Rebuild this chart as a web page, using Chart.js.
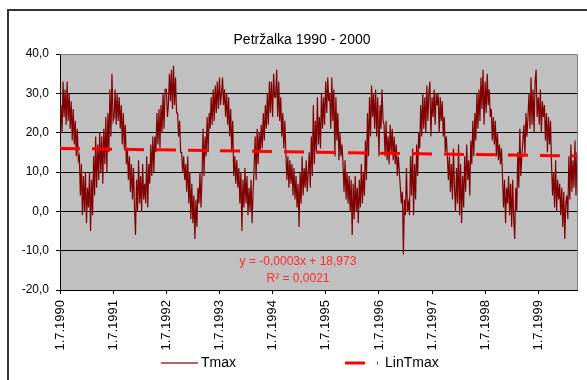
<!DOCTYPE html>
<html>
<head>
<meta charset="utf-8">
<title>Petržalka 1990 - 2000</title>
<script src="https://cdn.jsdelivr.net/npm/chart.js@4.4.1/dist/chart.umd.min.js"></script>
<style>
  html, body { margin: 0; padding: 0; background: #fff; overflow: hidden; }
  #wrap { position: relative; width: 587px; height: 380px; }
</style>
</head>
<body>
<div id="wrap"><canvas id="chart" width="587" height="380"></canvas></div>
<script>
// Tmax readings, one every 7 days, each list starts on 1.7. of its year
const tmax1990 = [24, 27, 20, 33, 24, 31, 22, 33, 23, 30, 21, 28, 18, 26, 17, 23, 14, 21, 13, 14, 4, 12, -1, 9, 0, 10, -3, 6, 1, 10, -5, 8, -1, 14, 4, 19, 6, 17, 8, 20, 10, 19, 7, 21, 12, 24, 10, 25, 15, 31, 19, 35];
const tmax1991 = [23, 24, 31, 22, 30, 23, 29, 21, 27, 17, 25, 16, 22, 12, 16, 8, 14, 5, 12, 3, 11, 1, -6, 8, 0, 13, 2, 9, 0, 12, 3, 7, 2, 14, 1, 12, 7, 17, 9, 19, 10, 19, 15, 25, 17, 26, 16, 27, 20, 30, 21, 31];
const tmax1992 = [31, 24, 27, 35, 28, 36, 26, 37, 27, 34, 25, 25, 19, 23, 15, 15, 10, 14, 8, 12, 5, 14, 2, 10, -2, 7, -3, 4, -7, 3, -4, 6, 2, 10, 1, 9, 21, 9, 19, 14, 24, 15, 25, 21, 29, 22, 31, 23, 32, 25, 33, 26];
const tmax1993 = [34, 27, 30, 34, 27, 31, 24, 30, 22, 29, 19, 26, 15, 23, 9, 14, 7, 13, 6, 11, 2, 10, -5, 8, 1, 11, 2, 9, -1, 6, 0, 8, -3, 5, 11, 19, 8, 21, 12, 20, 15, 22, 16, 25, 18, 27, 21, 30, 22, 33, 25, 33];
const tmax1994 = [24, 35, 29, 29, 36, 24, 33, 23, 29, 19, 25, 16, 23, 15, 8, 14, 6, 13, 7, 12, 4, 11, 3, 9, 1, 7, -4, 10, 2, 14, 4, 11, 6, 13, 5, 10, 15, 6, 19, 9, 27, 12, 23, 15, 29, 17, 24, 16, 30, 21, 29, 22];
const tmax1995 = [33, 25, 34, 28, 30, 21, 34, 23, 31, 14, 29, 18, 25, 13, 20, 14, 17, 12, 5, 13, 3, 10, 2, 9, 0, 8, -6, 7, -2, 9, 0, 6, -3, 8, 1, 12, 2, 10, 4, 18, 8, 25, 14, 29, 19, 32, 24, 30, 21, 31, 19, 29];
const tmax1996 = [14, 27, 21, 31, 23, 22, 14, 23, 13, 19, 12, 22, 15, 21, 13, 19, 12, 17, 9, 14, 10, 6, 2, 5, -11, 3, -1, 11, 0, 2, -1, 14, 4, 16, -1, 12, 3, 17, 9, 20, 16, 27, 19, 30, 21, 29, 20, 32, 23, 30, 33, 19];
const tmax1997 = [29, 24, 31, 22, 30, 27, 30, 20, 29, 23, 28, 19, 24, 15, 19, 14, 8, 14, 5, 12, 3, 16, 6, 0, 11, 2, 17, -1, 12, -3, 9, 1, 14, 5, 17, 8, 13, 4, 18, 12, 23, 14, 25, 18, 30, 21, 31, 23, 34, 26, 36, 22];
const tmax1998 = [33, 25, 35, 27, 31, 24, 26, 18, 24, 17, 23, 14, 20, 13, 17, 12, 16, 9, 1, 8, -3, 6, 2, 9, -1, 7, -4, 8, -2, -7, 6, 0, 15, 6, 21, 9, 14, 18, 22, 14, 25, 19, 24, 30, 21, 34, 22, 31, 20, 33, 36, 24];
const tmax1999 = [29, 22, 31, 20, 28, 24, 27, 18, 25, 15, 24, 17, 23, 12, 4, 10, 1, 13, 0, 8, 3, 7, -1, 6, -4, 5, -7, 2, 4, -2, 14, 3, 17, 5, 13, 6, 18, 4, 15];

const seasonYears = [1990, 1991, 1992, 1993, 1994, 1995, 1996, 1997, 1998, 1999];
const tmaxSeasons = [tmax1990, tmax1991, tmax1992, tmax1993, tmax1994, tmax1995, tmax1996, tmax1997, tmax1998, tmax1999];
const tickLabels = ['1.7.1990', '1.7.1991', '1.7.1992', '1.7.1993', '1.7.1994', '1.7.1995', '1.7.1996', '1.7.1997', '1.7.1998', '1.7.1999'];
const stepDays = 7;

// linear trend (Excel trendline) at first and last reading
const linTmax = [16.0, 14.05];
const trendText = ['y = -0,0003x + 18,973', 'R² = 0,0021'];

const FONT = "'Liberation Sans', Arial, sans-serif";
const DAY = 86400000;
const dayOf = (y) => Math.round((Date.UTC(y, 6, 1) - Date.UTC(1990, 6, 1)) / DAY);

const tickDays = seasonYears.map(dayOf);
const tmaxPoints = [];
tmaxSeasons.forEach((list, k) => {
  list.forEach((v, w) => tmaxPoints.push({ x: tickDays[k] + w * stepDays, y: v }));
});
const lastDay = tmaxPoints[tmaxPoints.length - 1].x;

// background, frame, title, trend label and legend like the Excel original
const excelLook = {
  id: 'excelLook',
  beforeDraw(chart) {
    const { ctx, chartArea: a } = chart;
    ctx.save();
    ctx.fillStyle = '#fff';
    ctx.fillRect(0, 0, chart.width, chart.height);
    ctx.fillStyle = '#c0c0c0';
    ctx.fillRect(a.left, a.top, a.right - a.left, a.bottom - a.top);
    ctx.restore();
  },
  afterDraw(chart) {
    const { ctx, chartArea: a } = chart;
    ctx.save();

    ctx.strokeStyle = '#808080';
    ctx.lineWidth = 1;
    ctx.beginPath();
    ctx.moveTo(a.left, a.top + 0.5);
    ctx.lineTo(a.right + 0.5, a.top + 0.5);
    ctx.lineTo(a.right + 0.5, a.bottom);
    ctx.stroke();

    ctx.strokeStyle = '#333';
    ctx.lineWidth = 2;
    ctx.strokeRect(8, 10, chart.width, chart.height);

    ctx.fillStyle = '#000';
    ctx.textAlign = 'center';
    ctx.textBaseline = 'middle';
    ctx.font = '14px ' + FONT;
    ctx.fillText('Petržalka 1990 - 2000', 302, 40);

    ctx.fillStyle = '#ff2a2a';
    ctx.font = '12px ' + FONT;
    ctx.fillText(trendText[0], 298, 262);
    ctx.fillText(trendText[1], 298, 279);

    // legend
    const ds = chart.data.datasets;
    const ly = 363;
    ctx.textAlign = 'left';
    ctx.font = '14px ' + FONT;
    ctx.strokeStyle = '#b06868';
    ctx.lineWidth = 2;
    ctx.beginPath();
    ctx.moveTo(161, ly);
    ctx.lineTo(198, ly);
    ctx.stroke();
    ctx.fillStyle = '#000';
    ctx.fillText(ds[0].label, 201, ly);

    ctx.strokeStyle = ds[1].borderColor;
    ctx.lineWidth = 3;
    ctx.setLineDash([20, 12]);
    ctx.beginPath();
    ctx.moveTo(345, ly);
    ctx.lineTo(378, ly);
    ctx.stroke();
    ctx.setLineDash([]);
    ctx.fillText(ds[1].label, 385, ly);
    ctx.restore();
  }
};

new Chart(document.getElementById('chart'), {
  type: 'line',
  data: {
    datasets: [
      {
        label: 'Tmax',
        data: tmaxPoints,
        borderColor: '#800000',
        borderWidth: 1.2,
        pointRadius: 0,
        tension: 0,
        order: 1
      },
      {
        label: 'LinTmax',
        data: [{ x: 0, y: linTmax[0] }, { x: lastDay, y: linTmax[1] }],
        borderColor: '#ff0000',
        borderWidth: 3,
        borderDash: [20, 12],
        pointRadius: 0,
        order: 0
      }
    ]
  },
  options: {
    responsive: false,
    animation: false,
    devicePixelRatio: 1,
    layout: { padding: { left: 0, right: 10, top: 54, bottom: 0 } },
    plugins: {
      legend: { display: false },
      title: { display: false },
      tooltip: { enabled: false }
    },
    scales: {
      x: {
        type: 'linear',
        min: 0,
        max: lastDay,
        afterBuildTicks: (scale) => { scale.ticks = tickDays.map(v => ({ value: v })); },
        afterFit: (scale) => { scale.height = 90; },
        grid: { drawOnChartArea: false, tickLength: 4, tickColor: '#000' },
        border: { color: '#000' },
        ticks: {
          autoSkip: false,
          minRotation: 90,
          maxRotation: 90,
          padding: 6,
          color: '#000',
          font: { family: FONT, size: 13 },
          callback: (value, i) => tickLabels[i]
        }
      },
      y: {
        min: -20,
        max: 40,
        afterFit: (scale) => { scale.width = 60; },
        grid: {
          color: (c) => (c.tick && c.tick.value === 40 ? '#808080' : '#000'),
          tickLength: 4,
          tickColor: '#000'
        },
        border: { color: '#000' },
        ticks: {
          stepSize: 10,
          padding: 7,
          color: '#000',
          font: { family: FONT, size: 12 },
          callback: (v) => v.toFixed(1).replace('.', ',')
        }
      }
    }
  },
  plugins: [excelLook]
});
</script>
</body>
</html>
